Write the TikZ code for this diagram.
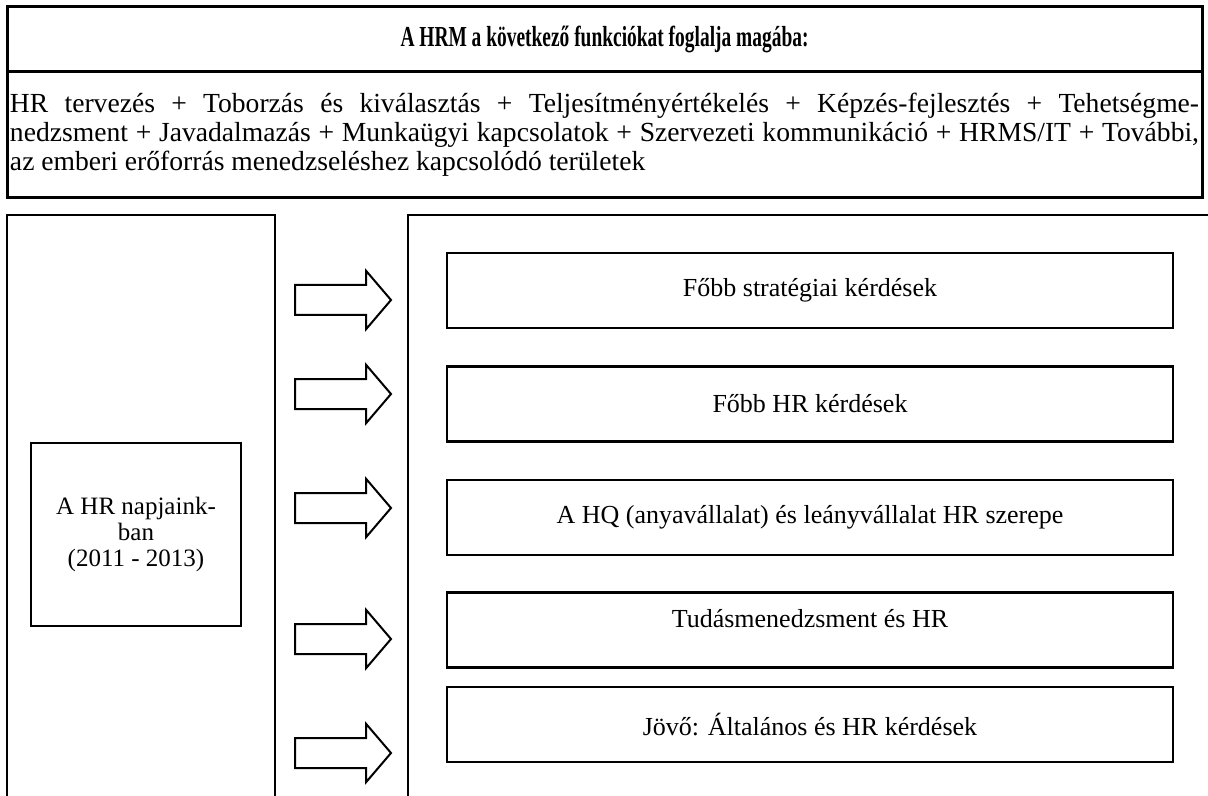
\documentclass[tikz,border=0pt]{standalone}
\usepackage{fontspec}
\setmainfont{Liberation Serif}
\newfontfamily\titlefont[FakeStretch=0.67]{Liberation Serif}
\usetikzlibrary{shapes.arrows}
\tikzstyle{frame} = [rectangle, draw=black, line width=1.5pt, inner sep=0pt]
\tikzstyle{panel} = [rectangle, draw=black, line width=0.8pt, minimum height=307.5pt]
\tikzstyle{nowbox} = [rectangle, draw=black, line width=1.2pt, minimum width=105pt, minimum height=91.5pt, align=center, font=\fontsize{12.5}{13}\selectfont]
\tikzstyle{topic} = [rectangle, draw=black, line width=1.2pt, minimum width=363pt, minimum height=37.5pt, font=\fontsize{13}{15}\selectfont]
\tikzstyle{bigarrow} = [single arrow, draw=black, line width=1pt, anchor=tail, minimum height=48pt, inner xsep=0pt, inner ysep=7pt, single arrow head extend=7pt, single arrow tip angle=99]

\begin{document}
\begin{tikzpicture}[x=0.5pt, y=-0.5pt]
\useasboundingbox (0,0) rectangle (1208,796);
\clip (0,0) rectangle (1208,796);

% header with the list of functions
\node (title) [frame, minimum width=597.5pt, minimum height=32.5pt, font=\titlefont\bfseries\fontsize{14.5}{16}\selectfont] at (604.5,39.5)
   {A HRM a következő funkciókat foglalja magába:};
\node (areas) [frame, text width=594.5pt, inner xsep=1.5pt, minimum height=63pt, align=justify, font=\fontsize{13.8}{14.5}\selectfont] at (604.5,135)
   {HR tervezés + Toborzás és kiválasztás + Teljesítményértékelés + Képzés-fejlesztés + Tehetségme-\linebreak
   nedzsment + Javadalmazás + Munkaügyi kapcsolatok + Szervezeti kommunikáció + HRMS/IT + További,\linebreak
   az emberi erőforrás menedzseléshez kapcsolódó területek};

% the two panels
\node (past) [panel, minimum width=134pt] at (141,522.5) {};
\node (scope) [panel, minimum width=416pt] at (824,522.5) {};

\node (today) [nowbox] at (136,534.5)
   {A HR napjaink-\\ban\\(2011 - 2013)};

\node (strat) [topic] at (810,290.5) {Főbb stratégiai kérdések};
\node (hrq) [topic] at (810,404) {Főbb HR kérdések};
\node (hq) [topic] at (810,517.5) {A HQ (anyavállalat) és leányvállalat HR szerepe};
\node (know) [topic, text depth=12pt] at (810,630) {Tudásmenedzsment és HR};
\node (future) [topic] at (810,724.5) {Jövő: Általános és HR kérdések};

% block arrows between the panels
\node (arr1) [bigarrow] at (294,300) {};
\node (arr2) [bigarrow] at (294,394) {};
\node (arr3) [bigarrow] at (294,508) {};
\node (arr4) [bigarrow] at (294,639) {};
\node (arr5) [bigarrow] at (294,753) {};

\end{tikzpicture}
\end{document}
